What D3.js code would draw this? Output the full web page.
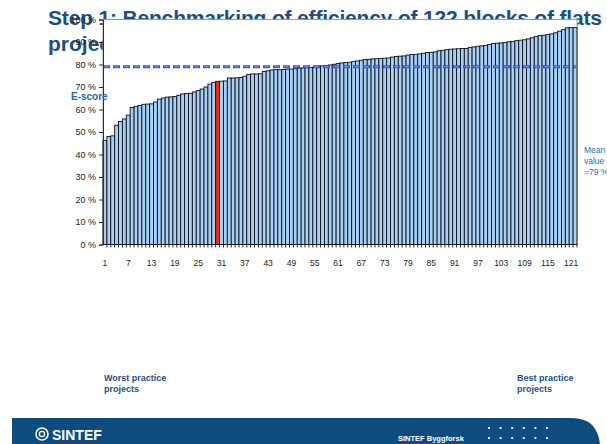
<!DOCTYPE html>
<html lang="en">
<head>
  <meta charset="UTF-8">
  <title>Benchmarking of efficiency</title>
  <script src="https://d3js.org/d3.v7.min.js"></script>
  <style>
    body { margin: 0; background: #fff; }
    svg { display: block; font-family: "Liberation Sans", Arial, sans-serif; }
  </style>
</head>
<body>
  <div id="canvas"></div>
  <script>
    // E-score per project, sorted ascending (project 30 is highlighted)
    const scores = [
      46.2, 48.0, 48.3, 53.0, 54.7, 55.8, 57.5, 60.9, 61.4, 61.8,
      62.3, 62.4, 62.5, 63.3, 64.6, 65.1, 65.5, 65.6, 65.8, 66.3,
      66.9, 67.1, 67.2, 67.8, 68.4, 69.1, 70.0, 71.3, 72.0, 72.5,
      72.6, 72.7, 74.0, 74.0, 74.1, 74.2, 74.8, 75.6, 75.8, 75.8,
      75.9, 76.9, 77.2, 77.6, 77.7, 77.7, 77.8, 78.0, 78.0, 78.1,
      78.4, 78.5, 78.6, 78.7, 78.9, 79.3, 79.4, 79.6, 79.8, 80.1,
      80.4, 80.7, 80.9, 81.0, 81.3, 81.6, 81.9, 82.2, 82.3, 82.5,
      82.6, 82.7, 82.8, 82.9, 83.3, 83.6, 83.7, 83.8, 84.2, 84.4,
      84.5, 84.7, 85.0, 85.3, 85.4, 85.6, 86.1, 86.3, 86.6, 86.8,
      86.9, 87.0, 87.1, 87.1, 87.6, 87.8, 88.1, 88.3, 88.5, 88.9,
      89.3, 89.5, 89.6, 89.8, 90.1, 90.3, 90.6, 90.8, 91.0, 91.4,
      91.9, 92.5, 92.9, 93.0, 93.3, 93.6, 94.1, 94.8, 95.5, 96.3,
      96.4, 96.4
    ];
    const projects = scores.map((d, i) => i + 1);
    const highlighted = 30;
    const meanValue = 79;
    const yTicks = [0, 10, 20, 30, 40, 50, 60, 70, 80, 90, 100];
    const xTickLabels = d3.range(1, 123, 6);

    const width = 607;
    const height = 444;
    const plotL = 103, plotR = 577, plotT = 19.5, plotB = 244.5;
    const navy = '#1a4f86';

    const svg = d3.select('#canvas')
      .append('svg')
      .attr('width', width)
      .attr('height', height);

    // title (partly hidden behind the plot area, as in the slide)
    const title = svg.append('text')
      .attr('fill', navy)
      .style('font-size', '21px')
      .style('font-weight', 'bold');
    title.append('tspan')
      .attr('x', 48).attr('y', 25)
      .attr('textLength', 554).attr('lengthAdjust', 'spacing')
      .text('Step 1: Benchmarking  of efficiency  of 122 blocks  of flats');
    title.append('tspan')
      .attr('x', 48).attr('y', 51)
      .text('projects');

    const x = d3.scaleBand().domain(projects).range([plotL, plotR]).padding(0);
    const y = d3.scaleLinear().domain([0, 100]).range([plotB, plotT]);

    // plot area
    svg.append('rect')
      .attr('x', plotL).attr('y', plotT)
      .attr('width', plotR - plotL).attr('height', plotB - plotT)
      .attr('fill', '#fff')
      .attr('stroke', '#999')
      .attr('stroke-width', 1);

    svg.append('g')
      .selectAll('rect')
      .data(scores)
      .enter()
      .append('rect')
      .attr('x', (d, i) => x(projects[i]))
      .attr('y', d => y(d))
      .attr('width', x.bandwidth())
      .attr('height', d => y(0) - y(d))
      .attr('fill', (d, i) => projects[i] === highlighted ? '#ff2a00' : '#a6d0f7')
      .attr('stroke', '#111')
      .attr('stroke-width', 0.9);

    // mean line
    const meanY = y(meanValue);
    svg.append('line')
      .attr('x1', plotL).attr('x2', plotR)
      .attr('y1', meanY).attr('y2', meanY)
      .attr('stroke', '#2a4ff2')
      .attr('stroke-width', 3.2)
      .attr('stroke-dasharray', '7,3');
    svg.append('line')
      .attr('x1', plotL + 1.5).attr('x2', plotR)
      .attr('y1', meanY).attr('y2', meanY)
      .attr('stroke', '#9fb4ff')
      .attr('stroke-width', 0.8)
      .attr('stroke-dasharray', '4,6');

    // y axis
    const yAxis = d3.axisLeft(y)
      .tickValues(yTicks)
      .tickFormat(d => d + ' %')
      .tickSize(4)
      .tickPadding(3);
    const gy = svg.append('g')
      .attr('transform', 'translate(' + plotL + ',0)')
      .call(yAxis);
    gy.select('.domain').attr('stroke', '#3a2a2a');
    gy.selectAll('.tick line').attr('stroke', '#3a2a2a');
    gy.selectAll('text')
      .attr('fill', '#222')
      .style('font-size', '9px')
      .style('font-family', '"Liberation Sans", Arial, sans-serif');

    // x axis
    const gx = svg.append('g')
      .attr('transform', 'translate(0,' + plotB + ')');
    gx.append('line')
      .attr('x1', plotL).attr('x2', plotR)
      .attr('stroke', '#111');
    gx.selectAll('.tk')
      .data(projects)
      .enter()
      .append('line')
      .attr('x1', d => x(d) + x.bandwidth())
      .attr('x2', d => x(d) + x.bandwidth())
      .attr('y1', 0).attr('y2', 3)
      .attr('stroke', '#111')
      .attr('stroke-width', 0.9);
    gx.selectAll('.lbl')
      .data(xTickLabels)
      .enter()
      .append('text')
      .attr('x', d => x(d) + x.bandwidth() / 2)
      .attr('y', 21)
      .attr('text-anchor', 'middle')
      .attr('fill', '#222')
      .style('font-size', '8.5px')
      .text(d => d);

    // side labels
    svg.append('text')
      .attr('x', 71).attr('y', 100)
      .attr('fill', '#2166b0')
      .style('font-size', '10px')
      .style('font-weight', 'bold')
      .text('E-score');

    const meanLabel = svg.append('text')
      .attr('fill', '#2d6db5')
      .style('font-size', '8.5px');
    ['Mean', 'value', '=79 %'].forEach((t, i) => {
      meanLabel.append('tspan').attr('x', 584).attr('y', 153 + i * 11).text(t);
    });

    function note(xPos, lines) {
      const t = svg.append('text')
        .attr('fill', navy)
        .style('font-size', '9px')
        .style('font-weight', 'bold');
      lines.forEach((l, i) => t.append('tspan').attr('x', xPos).attr('y', 381 + i * 11).text(l));
    }
    note(104, ['Worst  practice', 'projects']);
    note(517, ['Best  practice', 'projects']);

    // footer band
    const footer = svg.append('g');
    footer.append('path')
      .attr('d', 'M12,418 H572 Q597,418 600,444 H12 Z')
      .attr('fill', '#0e4b7e');
    footer.append('circle')
      .attr('cx', 42).attr('cy', 434).attr('r', 6)
      .attr('fill', 'none').attr('stroke', '#fff').attr('stroke-width', 1.6);
    footer.append('circle')
      .attr('cx', 42).attr('cy', 434).attr('r', 2.6)
      .attr('fill', 'none').attr('stroke', '#fff').attr('stroke-width', 1.4);
    footer.append('text')
      .attr('x', 52).attr('y', 439.5)
      .attr('fill', '#fff')
      .style('font-size', '14px')
      .style('font-weight', 'bold')
      .text('SINTEF');
    footer.append('text')
      .attr('x', 398).attr('y', 441)
      .attr('fill', '#fff')
      .style('font-size', '7.5px')
      .style('font-weight', 'bold')
      .text('SINTEF Byggforsk');
    const dotCols = d3.range(6);
    const dotRows = d3.range(2);
    dotRows.forEach(r => {
      footer.selectAll('.dot' + r)
        .data(dotCols)
        .enter()
        .append('rect')
        .attr('x', c => 488 + c * 11.6)
        .attr('y', 427 + r * 10)
        .attr('width', 2).attr('height', 2)
        .attr('fill', '#dfe8f2');
    });
  </script>
</body>
</html>
